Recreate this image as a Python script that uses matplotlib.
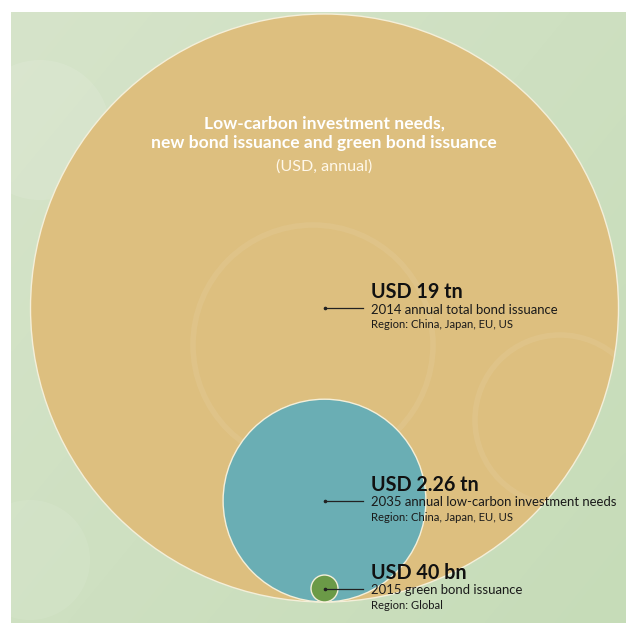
import numpy as np
import matplotlib.pyplot as plt
from matplotlib.patches import Circle

# data (values in USD bn)
values_bn = [19000, 2260, 40]
headlines = ['USD 19 tn', 'USD 2.26 tn', 'USD 40 bn']
descriptions = ['2014 annual total bond issuance',
                '2035 annual low-carbon investment needs',
                '2015 green bond issuance']
regions = ['Region: China, Japan, EU, US',
           'Region: China, Japan, EU, US',
           'Region: Global']
colors = ['#DDBF7F', '#6AAEB4', '#6B9A47']
title_lines = ['Low-carbon investment needs,',
               'new bond issuance and green bond issuance']
subtitle = '(USD, annual)'

plt.rcParams['font.family'] = ['Lato', 'DejaVu Sans']

W, H = 626, 623
fig = plt.figure(figsize=(W / 100, H / 100), dpi=100)
ax = fig.add_axes([0, 0, 1, 1])

# soft green background panel
yy, xx = np.mgrid[0:1:200j, 0:1:200j]
t = np.clip(0.55 * xx + 0.45 * yy, 0, 1)
light = np.array([214, 228, 202]) / 255
dark = np.array([198, 220, 184]) / 255
img = light + (dark - light) * t[..., None]
ax.imshow(img, extent=(11, W, H, 12), zorder=0, interpolation='bilinear')

# faint decorative shapes in the background
for (x0, y0, rr, a) in [(40, 130, 70, 0.10), (30, 560, 60, 0.08)]:
    ax.add_patch(Circle((x0, y0), rr, fc='white', ec='none', alpha=a, zorder=1))

# nested circles, area ~ value, all touching the same bottom line
cx = 324.5
base = 602
k = 294 / np.sqrt(max(values_bn))
centers = []
for i, v in enumerate(values_bn):
    r = k * np.sqrt(v)
    cy = base - r
    centers.append(cy)
    c = Circle((cx, cy), r, fc=colors[i], ec='#F4EFD9', lw=1.0, zorder=2 + i)
    ax.add_patch(c)
    if i == 0:
        big = c
        # faint rings inside the big circle
        for (x0, y0, rr) in [(313, 345, 120), (560, 420, 85)]:
            ring = Circle((x0, y0), rr, fill=False, ec='white', lw=4, alpha=0.07, zorder=2.5)
            ax.add_patch(ring)
            ring.set_clip_path(big)

# leader lines and labels
for i, cy in enumerate(centers):
    ax.plot([cx, 363], [cy, cy], color='#222222', lw=0.9, zorder=10)
    ax.plot(cx, cy, 'o', ms=1.6, color='#222222', zorder=10)
    ax.text(371, cy - 10, headlines[i], fontsize=14.2, fontweight='bold',
            color='#111111', va='baseline', ha='left', zorder=11)
    ax.text(371, cy + 5.5, descriptions[i], fontsize=9.45,
            color='#1a1a1a', va='baseline', ha='left', zorder=11)
    ax.text(371, cy + 20, regions[i], fontsize=8.1,
            color='#1a1a1a', va='baseline', ha='left', zorder=11)

# title inside the big circle
ax.text(324, 128.3, title_lines[0], fontsize=12.6, fontweight='bold', color='white',
        ha='center', va='baseline', zorder=11)
ax.text(324, 148.3, title_lines[1], fontsize=12.6, fontweight='bold', color='white',
        ha='center', va='baseline', zorder=11)
ax.text(324, 171, subtitle, fontsize=11.6, color='#FFF8EA',
        ha='center', va='baseline', zorder=11)

ax.set_aspect('auto')
ax.set_xlim(0, W)
ax.set_ylim(H, 0)
ax.axis('off')
fig.savefig('out.png', dpi=100, facecolor='white')
